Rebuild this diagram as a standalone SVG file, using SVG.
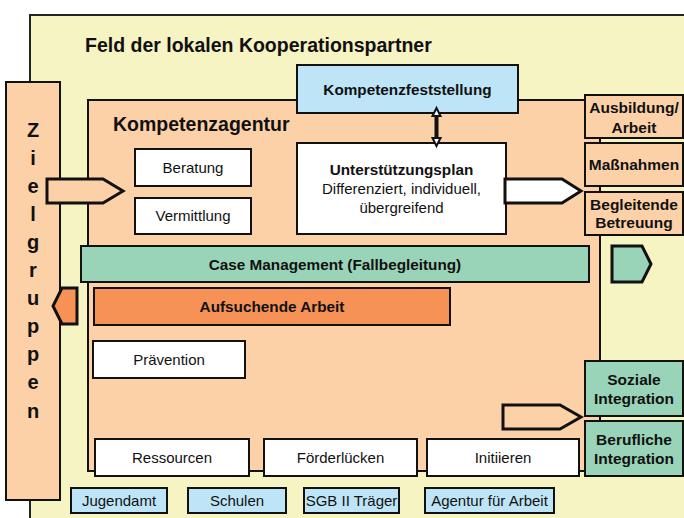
<svg xmlns="http://www.w3.org/2000/svg" width="684" height="518" viewBox="0 0 684 518">
<defs>
<style>
text{font-family:"Liberation Sans",Arial,sans-serif;fill:#111}
.r{font-size:15px}
.bx{font-size:15.3px;font-weight:bold}
.rt{font-size:15.5px;font-weight:bold}
.big{font-size:19.5px;font-weight:bold}
.zg{font-size:20px;font-weight:bold}
.c{text-anchor:middle}
.s{stroke:#111;stroke-width:2}
.ar{stroke:#111;stroke-width:3;stroke-linejoin:miter}
.yel{fill:#F6F4C2}
.org{fill:#FCD1A8}
.blu{fill:#BEE5F7}
.grn{fill:#99D4B9}
.dor{fill:#F79256}
.wht{fill:#FFFFFF}
.hd{fill:#FFFFFF;stroke:#111;stroke-width:2;stroke-linejoin:miter}
</style>
</defs>

<g id="field">
<rect x="30" y="15" width="700" height="600" class="yel" stroke="#222" stroke-width="2"/>
<text x="85" y="52" class="big">Feld der lokalen Kooperationspartner</text>
</g>

<g id="zielgruppen">
<rect x="6" y="82" width="54" height="418" class="org s"/>
<text class="zg c" x="33" y="137">Z</text>
<text class="zg c" x="33" y="165">i</text>
<text class="zg c" x="33" y="193">e</text>
<text class="zg c" x="33" y="221">l</text>
<text class="zg c" x="33" y="249">g</text>
<text class="zg c" x="33" y="277">r</text>
<text class="zg c" x="33" y="305">u</text>
<text class="zg c" x="33" y="333">p</text>
<text class="zg c" x="33" y="361">p</text>
<text class="zg c" x="33" y="389">e</text>
<text class="zg c" x="33" y="418">n</text>
</g>

<g id="kompetenzagentur">
<rect x="88" y="100" width="512" height="371" class="org s"/>
<text x="113" y="131" class="big">Kompetenzagentur</text>
</g>

<g id="kompetenzfeststellung">
<rect x="297" y="65" width="221" height="48" class="blu s"/>
<text x="407.5" y="95" class="bx c">Kompetenzfeststellung</text>
</g>

<g id="unterstuetzungsplan">
<rect x="297" y="143" width="209" height="91" class="wht s"/>
<text x="401.5" y="175" class="bx c">Unterstützungsplan</text>
<text x="401.5" y="194" class="r c">Differenziert, individuell,</text>
<text x="401.5" y="213" class="r c">übergreifend</text>
</g>

<g id="beratung">
<rect x="135" y="149" width="116" height="37" class="wht s"/>
<text x="193" y="173" class="r c">Beratung</text>
</g>
<g id="vermittlung">
<rect x="135" y="198" width="116" height="36" class="wht s"/>
<text x="193" y="221" class="r c">Vermittlung</text>
</g>

<g id="case-management">
<rect x="81" y="246" width="508" height="36" class="grn s"/>
<text x="335" y="270" class="bx c">Case Management (Fallbegleitung)</text>
</g>

<g id="aufsuchende-arbeit">
<rect x="94" y="288" width="356" height="37" class="dor s"/>
<text x="272" y="312" class="bx c">Aufsuchende Arbeit</text>
</g>

<g id="praevention">
<rect x="93" y="341" width="152" height="37" class="wht s"/>
<text x="169" y="365" class="r c">Prävention</text>
</g>

<g id="ressourcen">
<rect x="95" y="439" width="154" height="37" class="wht s"/>
<text x="172" y="463" class="r c">Ressourcen</text>
</g>
<g id="foerderluecken">
<rect x="264" y="439" width="153" height="37" class="wht s"/>
<text x="340.5" y="463" class="r c">Förderlücken</text>
</g>
<g id="initiieren">
<rect x="427" y="439" width="152" height="37" class="wht s"/>
<text x="503" y="463" class="r c">Initiieren</text>
</g>

<g id="ausbildung">
<rect x="585" y="95" width="98" height="43" class="org s"/>
<text x="634" y="113" class="rt c">Ausbildung/</text>
<text x="634" y="133" class="rt c">Arbeit</text>
</g>
<g id="massnahmen">
<rect x="585" y="143" width="98" height="43" class="org s"/>
<text x="634" y="170" class="rt c">Maßnahmen</text>
</g>
<g id="begleitende">
<rect x="585" y="192" width="98" height="43" class="org s"/>
<text x="634" y="210" class="rt c">Begleitende</text>
<text x="634" y="228" class="rt c">Betreuung</text>
</g>
<g id="soziale">
<rect x="585" y="361" width="98" height="55" class="grn s"/>
<text x="634" y="385" class="rt c">Soziale</text>
<text x="634" y="404" class="rt c">Integration</text>
</g>
<g id="berufliche">
<rect x="585" y="421" width="98" height="55" class="grn s"/>
<text x="634" y="445" class="rt c">Berufliche</text>
<text x="634" y="464" class="rt c">Integration</text>
</g>

<g id="jugendamt">
<rect x="71" y="488" width="96" height="25" class="blu s"/>
<text x="119" y="506" class="r c">Jugendamt</text>
</g>
<g id="schulen">
<rect x="188" y="488" width="98" height="25" class="blu s"/>
<text x="237" y="506" class="r c">Schulen</text>
</g>
<g id="sgb">
<rect x="304" y="488" width="95" height="25" class="blu s"/>
<text x="351.5" y="506" class="r c">SGB II Träger</text>
</g>
<g id="agentur">
<rect x="425" y="488" width="129" height="25" class="blu s"/>
<text x="489.5" y="506" class="r c">Agentur für Arbeit</text>
</g>

<g id="connectors">
<polygon points="47,179 103,179 123,191 103,203 47,203" class="org ar"/>
<polygon points="505,179 562,179 581,191 562,203 505,203" class="wht ar"/>
<polygon points="503,405 560,405 581,417 560,429 503,429" class="org ar"/>
<polygon points="612,246 642,246 651,264 642,282 612,282" class="grn ar"/>
<polygon points="77,288 62,288 53,306 62,324 77,324" class="dor ar"/>
<line x1="436.5" y1="115" x2="436.5" y2="139" stroke="#111" stroke-width="4"/>
<polygon points="436.5,108 432.5,116 440.5,116" class="hd"/>
<polygon points="436.5,146 432.5,138 440.5,138" class="hd"/>
</g>
</svg>
